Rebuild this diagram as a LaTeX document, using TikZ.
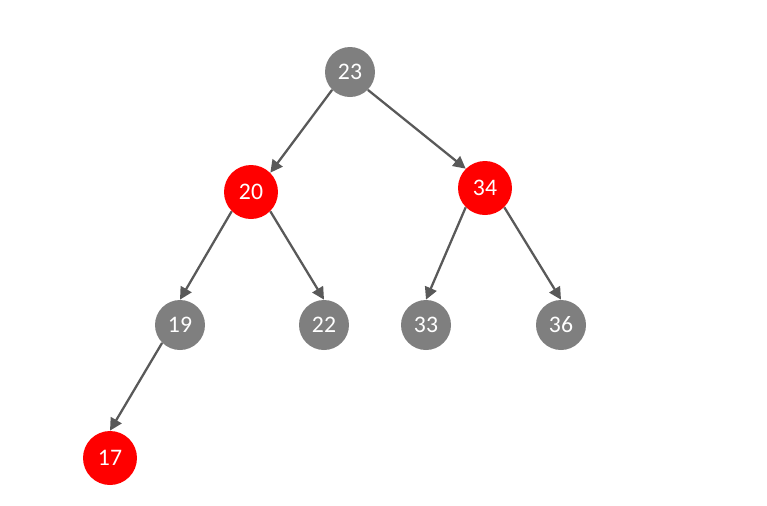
\documentclass[tikz,border=0pt]{standalone}
\usepackage{fontspec}
\setmainfont{Carlito}
\usetikzlibrary{arrows.meta}
\definecolor{nodegray}{HTML}{7F7F7F}
\definecolor{edgegray}{HTML}{595959}
\tikzset{
	blacknode/.style={circle, fill=nodegray, text=white, minimum size=1.0cm, inner sep=0pt, font=\fontsize{13.5}{15}\selectfont},
	rednode/.style={circle, fill=red, text=white, minimum size=1.08cm, inner sep=0pt, font=\fontsize{13.5}{15}\selectfont},
	edge/.style={draw=edgegray, line width=1.3pt, -{Triangle[length=7pt,width=7pt]}}
}

\begin{document}
\begin{tikzpicture}[x=0.02cm, y=-0.02cm]
				\useasboundingbox (0,0) rectangle (767,505);
				
				\node[blacknode] (n23) at (350,72) {23};
				\node[rednode] (n20) at (251,192) {20};
				\node[rednode] (n34) at (485,188) {34};
				\node[blacknode] (n19) at (180,325) {19};
				\node[blacknode] (n22) at (324,325) {22};
				\node[blacknode] (n33) at (426,325) {33};
				\node[blacknode] (n36) at (561,325) {36};
				\node[rednode] (n17) at (110,458) {17};
				
				\draw[edge] (n23.south west) -- (n20.north east);
				\draw[edge] (n23.south east) -- (n34.north west);
				\draw[edge] (n20.south west) -- (n19.north);
				\draw[edge] (n20.south east) -- (n22.north);
				\draw[edge] (n34.south west) -- (n33.north);
				\draw[edge] (n34.south east) -- (n36.north);
				\draw[edge] (n19.south west) -- (n17.north);
			\end{tikzpicture}
\end{document}
